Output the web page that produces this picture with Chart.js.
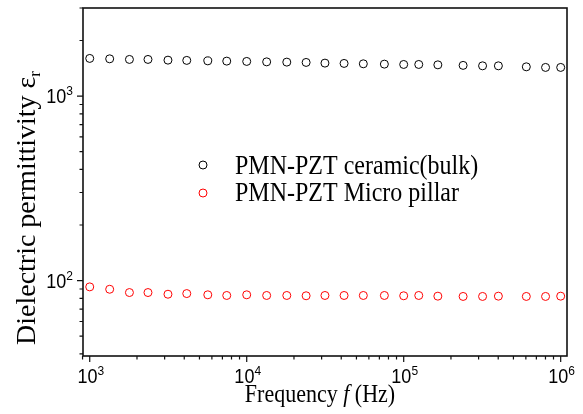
<!DOCTYPE html>
<html><head><meta charset="utf-8">
<script src="https://cdn.jsdelivr.net/npm/chart.js@4/dist/chart.umd.min.js"></script>
<style>html,body{margin:0;padding:0;background:#fff}#wrap{width:583px;height:414px}</style>
</head><body><div id="wrap"><canvas id="c" width="583" height="414"></canvas></div>
<script>
// ---- data ----
const frequencies = [1000, 1340, 1790, 2350, 3150, 4150, 5650, 7460, 10000, 13400, 18000, 23900, 31500, 41700, 55300, 75300, 100000, 124700, 165000, 239000, 318000, 401000, 604000, 801000, 1000000];
const bulkPermittivity = [1599, 1591, 1579, 1579, 1565, 1560, 1551, 1546, 1540, 1532, 1527, 1521, 1508, 1502, 1495, 1489, 1483, 1483, 1476, 1466, 1458, 1458, 1440, 1429, 1429];
const pillarPermittivity = [92.4, 89.7, 86.1, 86.1, 84.3, 85.0, 83.7, 83.0, 83.7, 83.0, 83.0, 82.7, 83.0, 83.0, 83.0, 83.0, 82.7, 83.0, 82.3, 82.0, 82.0, 82.3, 82.0, 82.0, 82.3];
const seriesNames = ['PMN-PZT ceramic(bulk)', 'PMN-PZT Micro pillar'];
const xMajorTicks = [1e3, 1e4, 1e5, 1e6];
const xTickExponents = ['3', '4', '5', '6'];
const xMinorTicks = [900, 2e3, 3e3, 4e3, 5e3, 6e3, 7e3, 8e3, 9e3, 2e4, 3e4, 4e4, 5e4, 6e4, 7e4, 8e4, 9e4, 2e5, 3e5, 4e5, 5e5, 6e5, 7e5, 8e5, 9e5];
const yMajorTicks = [1e2, 1e3];
const yTickExponents = ['2', '3'];
const yMinorTicks = [40, 50, 60, 70, 80, 90, 200, 300, 400, 500, 600, 700, 800, 900, 2000, 3000];

const SY = 1.12; // vertical stretch of text in the reference
const SANS = '"Liberation Sans", Arial, sans-serif';
const SERIF = '"Liberation Serif", "Times New Roman", serif';

function txt(ctx, s, x, y, font, align) {
  ctx.save(); ctx.translate(x, y); ctx.scale(1, SY);
  ctx.font = font; ctx.textAlign = align || 'left'; ctx.textBaseline = 'alphabetic';
  ctx.fillText(s, 0, 0); ctx.restore();
}
function measure(ctx, s, font) { ctx.font = font; return ctx.measureText(s).width; }
function powLabel(ctx, exp, x, y, anchor) {
  const fb = '18px ' + SANS, fe = '12px ' + SANS;
  const w1 = measure(ctx, '10', fb), w2 = measure(ctx, exp, fe);
  const tot = w1 + w2;
  let x0 = anchor === 'center' ? x - tot / 2 : x - tot;
  txt(ctx, '10', x0, y, fb);
  txt(ctx, exp, x0 + w1, y - 8, fe);
}

const decor = {
  id: 'decor',
  afterDraw(chart) {
    const ctx = chart.ctx, a = chart.chartArea;
    const xs = chart.scales.x, ys = chart.scales.y;
    ctx.save();
    ctx.fillStyle = '#000'; ctx.strokeStyle = '#111';
    // frame
    ctx.lineWidth = 1.6;
    ctx.strokeRect(a.left, a.top, a.right - a.left, a.bottom - a.top);
    // ticks
    ctx.lineWidth = 1.2;
    ctx.beginPath();
    xMajorTicks.forEach(v => { const p = xs.getPixelForValue(v); ctx.moveTo(p, a.bottom); ctx.lineTo(p, a.bottom + 6); });
    xMinorTicks.forEach(v => { const p = xs.getPixelForValue(v); ctx.moveTo(p, a.bottom); ctx.lineTo(p, a.bottom + 3.5); });
    yMajorTicks.forEach(v => { const p = ys.getPixelForValue(v); ctx.moveTo(a.left, p); ctx.lineTo(a.left - 6, p); });
    yMinorTicks.forEach(v => { const p = ys.getPixelForValue(v); ctx.moveTo(a.left, p); ctx.lineTo(a.left - 3.5, p); });
    ctx.stroke();
    // tick labels
    xMajorTicks.forEach((v, i) => powLabel(ctx, xTickExponents[i], xs.getPixelForValue(v) + 1, a.bottom + 27, 'center'));
    yMajorTicks.forEach((v, i) => powLabel(ctx, yTickExponents[i], a.left - 10, ys.getPixelForValue(v) + 7, 'right'));
    // x title
    const fN = '22px ' + SERIF, fI = 'italic 22px ' + SERIF;
    const p1 = 'Frequency ', p2 = 'f', p3 = ' (Hz)';
    const w1 = measure(ctx, p1, fN), w2 = measure(ctx, p2, fI), w3 = measure(ctx, p3, fN);
    let x0 = (a.left + a.right) / 2 - 5 - (w1 + w2 + w3) / 2;
    txt(ctx, p1, x0, 402, fN); txt(ctx, p2, x0 + w1, 402, fI); txt(ctx, p3, x0 + w1 + w2, 402, fN);
    // y title (rotated)
    ctx.save();
    ctx.translate(35, 345); ctx.rotate(-Math.PI / 2);
    const fy = '28px ' + SERIF, fs = '17px ' + SERIF;
    const yt = 'Dielectric permittivity \u03B5';
    ctx.font = fy; ctx.textAlign = 'left'; ctx.textBaseline = 'alphabetic';
    ctx.fillText(yt, 0, 0);
    const wy = ctx.measureText(yt).width;
    ctx.font = fs; ctx.fillText('r', wy, 5);
    ctx.restore();
    // legend
    const colors = ['#000000', '#ff0000'];
    const ly = [165, 193], lb = [174, 201];
    ctx.lineWidth = 1;
    seriesNames.forEach((n, i) => {
      ctx.strokeStyle = colors[i];
      ctx.beginPath(); ctx.arc(203, ly[i], 4, 0, Math.PI * 2); ctx.stroke();
      ctx.fillStyle = '#000';
      txt(ctx, n, 235, lb[i], '24px ' + SERIF);
    });
    ctx.restore();
  }
};

new Chart(document.getElementById('c'), {
  type: 'scatter',
  data: {
    datasets: [
      { label: seriesNames[0], data: frequencies.map((f, i) => ({ x: f, y: bulkPermittivity[i] })),
        borderColor: '#000000', backgroundColor: 'rgba(0,0,0,0)', borderWidth: 1, pointRadius: 4, pointStyle: 'circle' },
      { label: seriesNames[1], data: frequencies.map((f, i) => ({ x: f, y: pillarPermittivity[i] })),
        borderColor: '#ff0000', backgroundColor: 'rgba(0,0,0,0)', borderWidth: 1, pointRadius: 4, pointStyle: 'circle' }
    ]
  },
  options: {
    responsive: false, animation: false, devicePixelRatio: 1,
    layout: { padding: { left: 83, right: 16, top: 8, bottom: 58 } },
    plugins: { legend: { display: false }, tooltip: { enabled: false } },
    scales: {
      x: { type: 'logarithmic', min: 906, max: 1097000, display: false },
      y: { type: 'logarithmic', min: 39, max: 3000, display: false }
    }
  },
  plugins: [decor]
});
</script></body></html>
